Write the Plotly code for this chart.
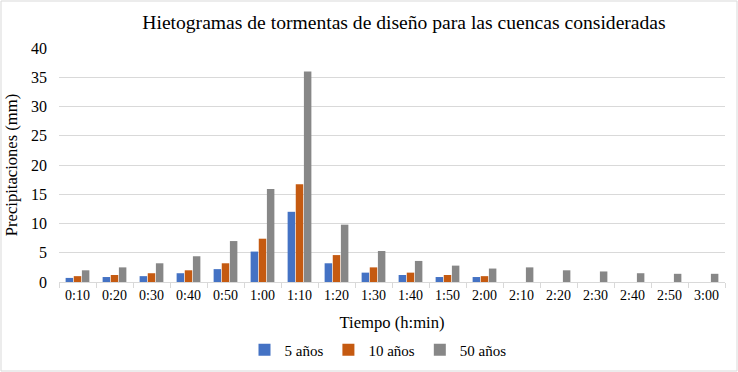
import plotly.graph_objects as go

categories = ["0:10", "0:20", "0:30", "0:40", "0:50", "1:00", "1:10", "1:20", "1:30",
              "1:40", "1:50", "2:00", "2:10", "2:20", "2:30", "2:40", "2:50", "3:00"]
p5 = [0.7, 0.85, 1.0, 1.5, 2.2, 5.2, 12.0, 3.2, 1.6, 1.2, 0.85, 0.85, 0, 0, 0, 0, 0, 0]
p10 = [1.0, 1.2, 1.5, 2.0, 3.2, 7.4, 16.7, 4.6, 2.5, 1.6, 1.2, 1.0, 0, 0, 0, 0, 0, 0]
p50 = [2.0, 2.5, 3.2, 4.4, 7.0, 15.9, 36.0, 9.8, 5.3, 3.6, 2.8, 2.3, 2.5, 2.0, 1.8, 1.5, 1.4, 1.4]
series_names = ["5 años", "10 años", "50 años"]
colors = ["#4472C4", "#C55A11", "#878787"]

FONT = "'Liberation Serif', 'Times New Roman', 'DejaVu Serif', serif"

fig = go.Figure()
for name, vals, col in zip(series_names, [p5, p10, p50], colors):
    fig.add_trace(go.Bar(x=categories, y=vals, name=name, marker_color=col,
                         marker_line_width=0))

W, H = 738, 372
ml, mr, mt, mb = 59, 13, 48, 90
pw, ph = W - ml - mr, H - mt - mb

fig.update_layout(
    width=W, height=H,
    margin=dict(l=ml, r=mr, t=mt, b=mb, autoexpand=False),
    paper_bgcolor="white", plot_bgcolor="white",
    font=dict(family=FONT, size=14, color="#000000"),
    title=dict(text="Hietogramas de tormentas de diseño para las cuencas consideradas",
               x=404 / W, xanchor="center", xref="container",
               y=1 - 22 / H, yanchor="middle",
               font=dict(family=FONT, size=19.6, color="#000000")),
    barmode="group", bargap=0.34, bargroupgap=0.08,
    showlegend=True,
    legend=dict(orientation="h", x=378 / W, xanchor="center", xref="container",
                y=1 - 350 / H, yanchor="middle", yref="container",
                font=dict(family=FONT, size=15), itemwidth=30, traceorder="normal"),
    xaxis=dict(title=dict(text="Tiempo (h:min)", font=dict(family=FONT, size=16.6), standoff=14),
               automargin=False,
               showline=True, linecolor="#D9D9D9", linewidth=1,
               ticks="outside", ticklen=5, tickcolor="#D9D9D9", tickson="boundaries",
               tickfont=dict(family=FONT, size=14), showgrid=False),
    yaxis=dict(title=dict(text="Precipitaciones (mm)", font=dict(family=FONT, size=16.6), standoff=9),
               automargin=False,
               range=[0, 40], dtick=5, showgrid=True, gridcolor="#D9D9D9", gridwidth=1,
               zeroline=False, showline=False, tickfont=dict(family=FONT, size=16),
               ticks="", ticklabelstandoff=11),
    shapes=[dict(type="rect", xref="paper", yref="paper",
                 x0=-(ml - 1) / pw, x1=(W - ml - 1) / pw,
                 y0=-(mb - 1) / ph, y1=(H - mb - 1) / ph,
                 line=dict(color="#D9D9D9", width=1), fillcolor="rgba(0,0,0,0)")],
)

fig.write_html("out.html", config={"displayModeBar": False},
               post_script="document.body.style.margin='0';")
